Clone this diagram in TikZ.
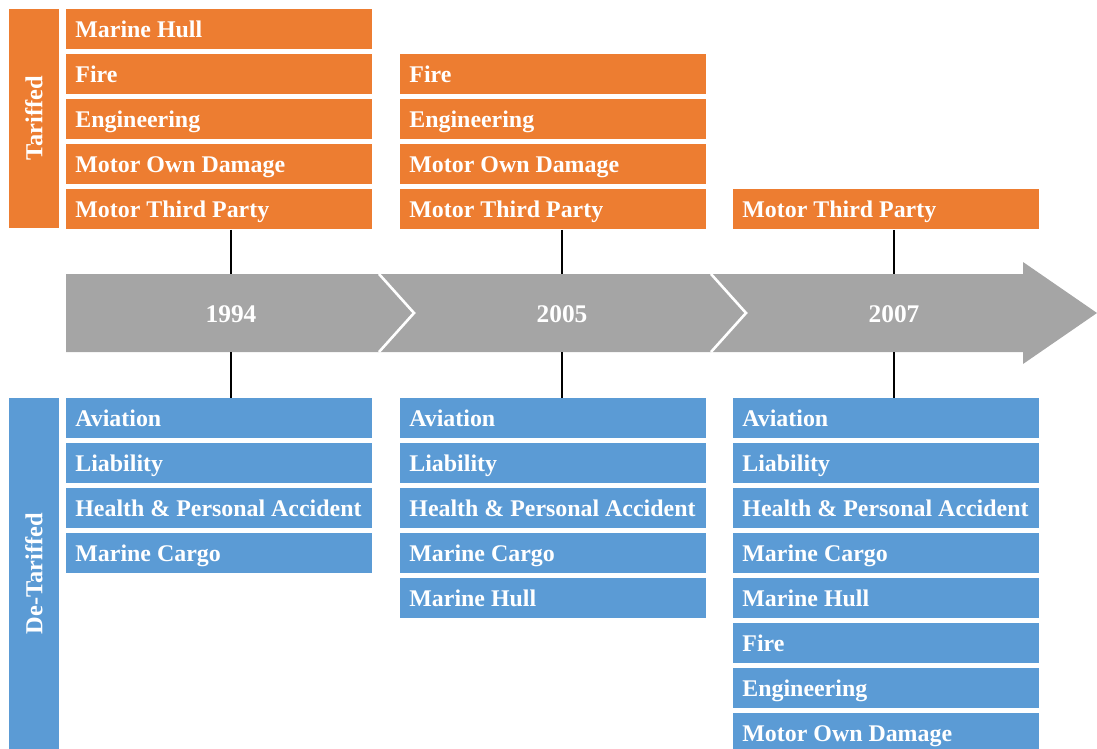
\documentclass[tikz,border=0pt]{standalone}
\usepackage{fontspec}
\setmainfont{Liberation Serif}
\usetikzlibrary{positioning}
\definecolor{tariffed}{HTML}{ED7D31}
\definecolor{detariffed}{HTML}{5B9BD5}
\definecolor{timeline}{HTML}{A5A5A5}
\newcommand{\itemtext}[1]{\makebox[144pt][l]{#1}}
\tikzset{
  item/.style={rectangle, anchor=north west, inner xsep=4.5pt, inner ysep=0pt,
    minimum width=153pt, minimum height=20pt, text height=10.5pt, text depth=2.5pt,
    text=white, font=\fontsize{11.95}{14}\selectfont\bfseries},
  tarbox/.style={item, fill=tariffed},
  detarbox/.style={item, fill=detariffed},
  sidebox/.style={rectangle, rotate=90, inner sep=0pt, minimum height=25pt,
    text=white, font=\fontsize{12.2}{14}\selectfont\bfseries},
  year/.style={text=white, font=\fontsize{12.7}{14}\selectfont\bfseries},
  chevron/.style={white, line width=1.3pt},
  stem/.style={black, line width=0.7pt}
}

\begin{document}
\begin{tikzpicture}[x=0.5pt, y=-0.5pt]
  \useasboundingbox (0,0) rectangle (1097,749);
  % timeline arrow
  \fill[timeline] (66,274) -- (1023,274) -- (1023,262) -- (1097,313) -- (1023,364) -- (1023,352) -- (66,352) -- cycle;
  \draw[chevron] (379,274) -- (414,313) -- (379,352);
  \draw[chevron] (711,274) -- (746,313) -- (711,352);
  \coordinate (atop) at (0,274);
  \coordinate (abot) at (0,352);
  \node[year] (y1) at (231,314) {1994};
  \node[year] (y2) at (562,314) {2005};
  \node[year] (y3) at (894,314) {2007};

  % side labels
  \node[sidebox, fill=tariffed, minimum width=109.5pt] (tar) at (34,118.5) {Tariffed};
  \node[sidebox, fill=detariffed, minimum width=175.5pt] (detar) at (34,573.5) {De-Tariffed};

  % tariffed lines
  \foreach \name [count=\i] in {Marine Hull, Fire, Engineering, Motor Own Damage, Motor Third Party}
    \node[tarbox] (t1-\i) at (66,{9+45*(\i-1)}) {\itemtext{\name}};
  \foreach \name [count=\i from 2] in {Fire, Engineering, Motor Own Damage, Motor Third Party}
    \node[tarbox] (t2-\i) at (400,{9+45*(\i-1)}) {\itemtext{\name}};
  \node[tarbox] (t3-5) at (733,189) {\itemtext{Motor Third Party}};

  % de-tariffed lines
  \foreach \name [count=\i] in {Aviation, Liability, Health \& Personal Accident, Marine Cargo}
    \node[detarbox] (d1-\i) at (66,{398+45*(\i-1)}) {\itemtext{\name}};
  \foreach \name [count=\i] in {Aviation, Liability, Health \& Personal Accident, Marine Cargo, Marine Hull}
    \node[detarbox] (d2-\i) at (400,{398+45*(\i-1)}) {\itemtext{\name}};
  \foreach \name [count=\i] in {Aviation, Liability, Health \& Personal Accident, Marine Cargo, Marine Hull, Fire, Engineering, Motor Own Damage}
    \node[detarbox] (d3-\i) at (733,{398+45*(\i-1)}) {\itemtext{\name}};

  % stems
  \foreach \c in {1,2,3} {
    \draw[stem] (y\c |- t\c-5.south) -- (y\c |- atop);
    \draw[stem] (y\c |- abot) -- (y\c |- d\c-1.north);
  }
\end{tikzpicture}
\end{document}
